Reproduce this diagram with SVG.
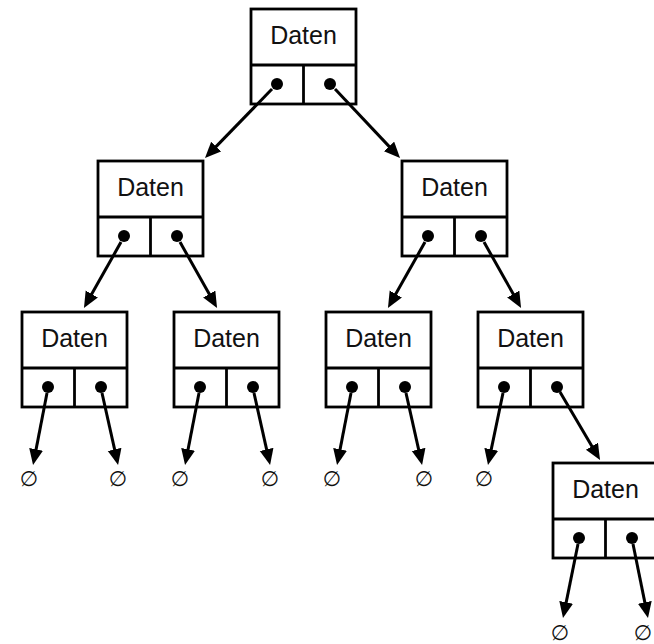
<svg xmlns="http://www.w3.org/2000/svg" width="654" height="644" viewBox="0 0 654 644">
<style>
.box{fill:#fff;stroke:#000;stroke-width:2.8}
.div{stroke:#000;stroke-width:2.8;fill:none}
.dot{fill:#000}
.lbl{font-family:"Liberation Sans",Arial,sans-serif;font-size:25px;fill:#111;text-anchor:middle}
.nul{font-family:"DejaVu Sans","Liberation Sans",sans-serif;font-size:21px;fill:#111;text-anchor:middle}
.arr{stroke:#000;stroke-width:3;fill:none;marker-end:url(#ah)}
</style>
<defs>
<marker id="ah" markerUnits="userSpaceOnUse" markerWidth="18" markerHeight="16" refX="11" refY="7" orient="auto">
<path d="M0,0 L16,7 L0,14 z" fill="#000"/>
</marker>
<g id="nodeShape">
<rect class="box" x="0" y="0" width="105" height="95"/>
<line class="div" x1="0" y1="56" x2="105" y2="56"/>
<line class="div" x1="52.5" y1="56" x2="52.5" y2="95"/>
<circle class="dot" cx="26" cy="75" r="6"/>
<circle class="dot" cx="79" cy="75" r="6"/>
<text class="lbl" x="52.5" y="35">Daten</text>
</g>
</defs>
<g id="n0" transform="translate(251,9)"><use href="#nodeShape"/></g>
<g id="n1" transform="translate(98,161)"><use href="#nodeShape"/></g>
<g id="n2" transform="translate(402,161)"><use href="#nodeShape"/></g>
<g id="n3" transform="translate(22,312)"><use href="#nodeShape"/></g>
<g id="n4" transform="translate(174,312)"><use href="#nodeShape"/></g>
<g id="n5" transform="translate(326,312)"><use href="#nodeShape"/></g>
<g id="n6" transform="translate(478,312)"><use href="#nodeShape"/></g>
<g id="n7" transform="translate(553,463)"><use href="#nodeShape"/></g>
<g id="connectors">
<line class="arr" x1="272" y1="89" x2="208.5" y2="154.4"/>
<line class="arr" x1="335" y1="89" x2="396.6" y2="154.4"/>
<line class="arr" x1="121" y1="242" x2="86.4" y2="303.6"/>
<line class="arr" x1="180" y1="242" x2="214.6" y2="303.6"/>
<line class="arr" x1="425" y1="242" x2="390.4" y2="303.6"/>
<line class="arr" x1="484" y1="242" x2="518.6" y2="303.6"/>
<line class="arr" x1="47" y1="393" x2="34" y2="460.1"/>
<line class="arr" x1="102" y1="393" x2="117" y2="460.1"/>
<line class="arr" x1="199" y1="393" x2="186" y2="460.1"/>
<line class="arr" x1="254" y1="393" x2="269" y2="460.1"/>
<line class="arr" x1="351" y1="393" x2="338" y2="460.1"/>
<line class="arr" x1="406" y1="393" x2="421" y2="460.1"/>
<line class="arr" x1="503" y1="393" x2="489" y2="460.1"/>
<line class="arr" x1="560" y1="392" x2="597.5" y2="455.7"/>
<line class="arr" x1="578" y1="544" x2="564" y2="613.1"/>
<line class="arr" x1="633" y1="544" x2="647" y2="613.1"/>
</g>
<g id="nulls">
<text class="nul" x="29" y="486">∅</text>
<text class="nul" x="118" y="486">∅</text>
<text class="nul" x="180" y="486">∅</text>
<text class="nul" x="270" y="486">∅</text>
<text class="nul" x="332" y="486">∅</text>
<text class="nul" x="424" y="486">∅</text>
<text class="nul" x="484" y="486">∅</text>
<text class="nul" x="560" y="640">∅</text>
<text class="nul" x="643" y="640">∅</text>
</g>
</svg>
